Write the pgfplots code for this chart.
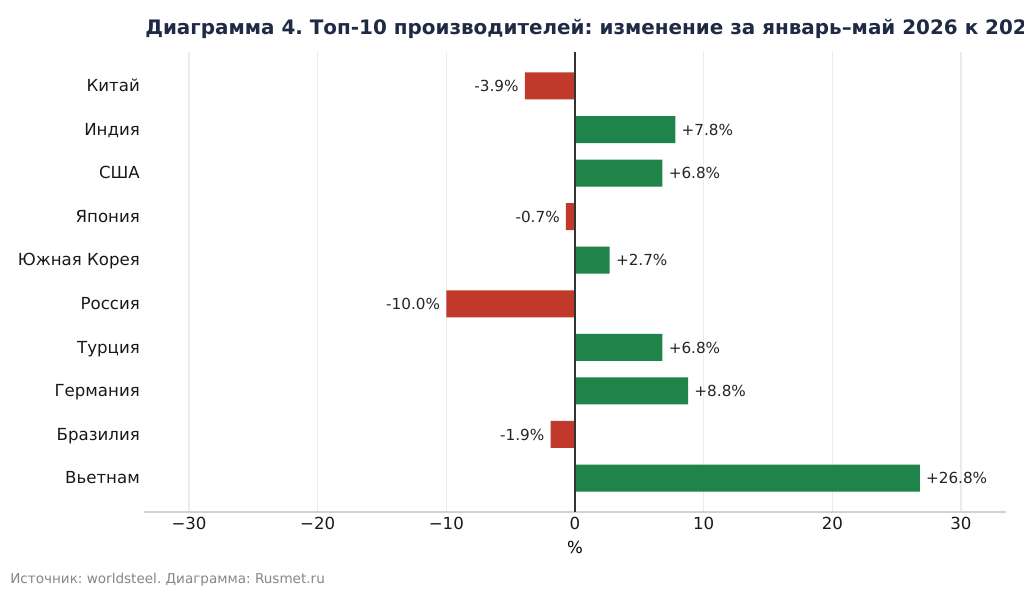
\documentclass[border=0pt]{standalone}
\usepackage{pgfplots}
\pgfplotsset{compat=1.18}
\usepackage{fontspec}
\setmainfont{DejaVu Sans}
\frenchspacing
\definecolor{barred}{RGB}{192,57,43}
\definecolor{bargreen}{RGB}{31,132,74}
\definecolor{titlecol}{RGB}{31,42,68}
\begin{document}
\begin{tikzpicture}
\path[use as bounding box, clip] (0,0) rectangle (10.24in,5.91in);
\fill[white] (0,0) rectangle (10.24in,5.91in);
\node[anchor=west, inner sep=0pt, text=titlecol, font=\fontsize{14.4}{17}\selectfont\bfseries] at (1.45in,5.62in) {Диаграмма 4. Топ-10 производителей: изменение за январь–май 2026 к 2025};
\node[anchor=west, inner sep=0pt, text=black!47, font=\fontsize{9.8}{12}\selectfont] at (0.10in,0.11in) {Источник: worldsteel. Диаграмма: Rusmet.ru};
\begin{axis}[
  at={(1.44in,0.79in)}, anchor=south west,
  scale only axis, width=8.62in, height=4.60in,
  xmin=-33.5, xmax=33.5,
  ymin=-0.78, ymax=9.78, y dir=reverse,
  axis x line*=bottom, axis y line*=left,
  x axis line style={draw=black!18, line width=0.8pt, -},
  y axis line style={draw=none},
  major tick length=0pt,
  xtick={-30,-20,-10,0,10,20,30},
  xticklabels={−30,−20,−10,0,10,20,30},
  ytick={0,...,9},
  yticklabels={Китай,Индия,США,Япония,Южная Корея,Россия,Турция,Германия,Бразилия,Вьетнам},
  tick label style={font=\fontsize{12}{14}\selectfont, text=black!90},
  yticklabel style={xshift=0.5pt, text height=1.6ex, text depth=0.1ex, anchor=east},
  xmajorgrids, grid style={draw=black!8, line width=0.8pt},
  xlabel={\%}, xlabel style={font=\fontsize{12}{14}\selectfont, yshift=-1.8pt},
  bar width=0.62,
  point meta=explicit symbolic,
  nodes near coords,
  every node near coord/.append style={font=\fontsize{11}{13}\selectfont, text=black!85, text height=1.6ex, text depth=0.1ex},
  clip=false,
]
\addplot[xbar, fill=bargreen, draw=none, nodes near coords style={anchor=west, xshift=1pt}] coordinates {
  (7.8,1) [+7.8\%]
  (6.8,2) [+6.8\%]
  (2.7,4) [+2.7\%]
  (6.8,6) [+6.8\%]
  (8.8,7) [+8.8\%]
  (26.8,9) [+26.8\%]
};
\addplot[xbar, fill=barred, draw=none, nodes near coords style={anchor=east, xshift=-1pt}] coordinates {
  (-3.9,0) [-3.9\%]
  (-0.7,3) [-0.7\%]
  (-10.0,5) [-10.0\%]
  (-1.9,8) [-1.9\%]
};
\draw[black!80, line width=0.8pt] ({axis cs:0,0} |- {rel axis cs:0,0}) -- ({axis cs:0,0} |- {rel axis cs:0,1});
\end{axis}
\end{tikzpicture}
\end{document}
